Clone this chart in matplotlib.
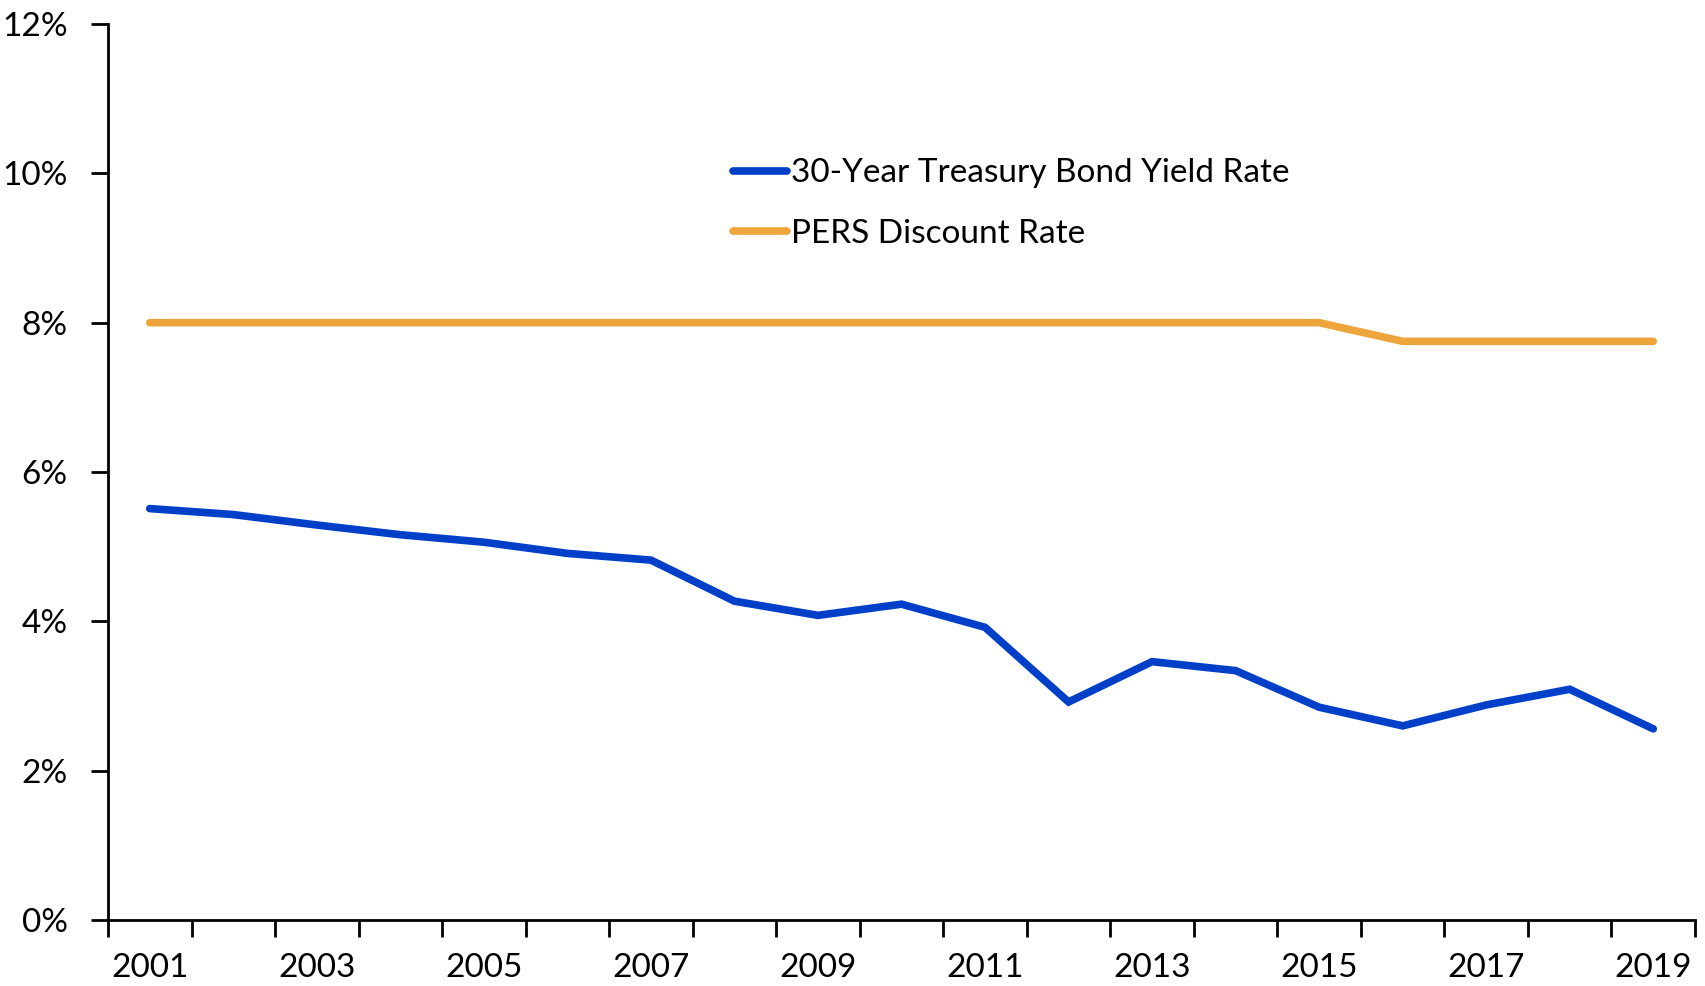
import matplotlib

matplotlib.use("Agg")
import matplotlib.pyplot as plt
from matplotlib.ticker import FixedLocator, FuncFormatter

plt.rcParams["font.family"] = ["Lato", "DejaVu Sans"]

YEARS = list(range(2001, 2020))
TREASURY = [5.51, 5.43, 5.29, 5.16, 5.06, 4.91, 4.82, 4.27, 4.08, 4.23,
            3.92, 2.92, 3.46, 3.34, 2.85, 2.60, 2.88, 3.09, 2.56]
PERS = [8.0] * 15 + [7.75] * 4

BLUE = "#003fc8"
ORANGE = "#eea63c"

fig = plt.figure(figsize=(17.06, 9.86), dpi=100)
ax = fig.add_axes([108 / 1706, 1 - 920 / 986, (1695 - 108) / 1706, (920 - 24) / 986])

x = list(range(len(YEARS)))
ax.plot(x, TREASURY, color=BLUE, lw=5.5, solid_capstyle="round", solid_joinstyle="miter",
        label="30-Year Treasury Bond Yield Rate")
ax.plot(x, PERS, color=ORANGE, lw=5.5, solid_capstyle="round", solid_joinstyle="miter",
        label="PERS Discount Rate")

ax.set_xlim(-0.5, len(YEARS) - 0.5)
ax.set_ylim(0, 12)
ax.set_yticks(range(0, 13, 2))
ax.yaxis.set_major_formatter(FuncFormatter(lambda v, _: f"{v:.0f}%"))

# category boundaries as ticks, labels every other year
ax.xaxis.set_major_locator(FixedLocator([i - 0.5 for i in range(len(YEARS) + 1)]))
ax.xaxis.set_major_formatter(FuncFormatter(lambda v, _: ""))
ax.set_xticks(x[::2], minor=True)
ax.set_xticklabels([str(y) for y in YEARS[::2]], minor=True)
ax.tick_params(axis="x", which="minor", length=0, pad=24, labelsize=24)
ax.tick_params(axis="x", which="major", length=12, width=2, direction="out")
ax.tick_params(axis="y", length=12, width=2, direction="out", pad=17, labelsize=24)

for side in ("top", "right"):
    ax.spines[side].set_visible(False)
for side in ("left", "bottom"):
    ax.spines[side].set_linewidth(2)

ax.legend(loc="upper left", bbox_to_anchor=(0.394, 0.85), frameon=False, fontsize=24,
          handlelength=1.6, handletextpad=0.12, labelspacing=0.92,
          borderpad=0, borderaxespad=0)

fig.savefig("out.png", dpi=100)
